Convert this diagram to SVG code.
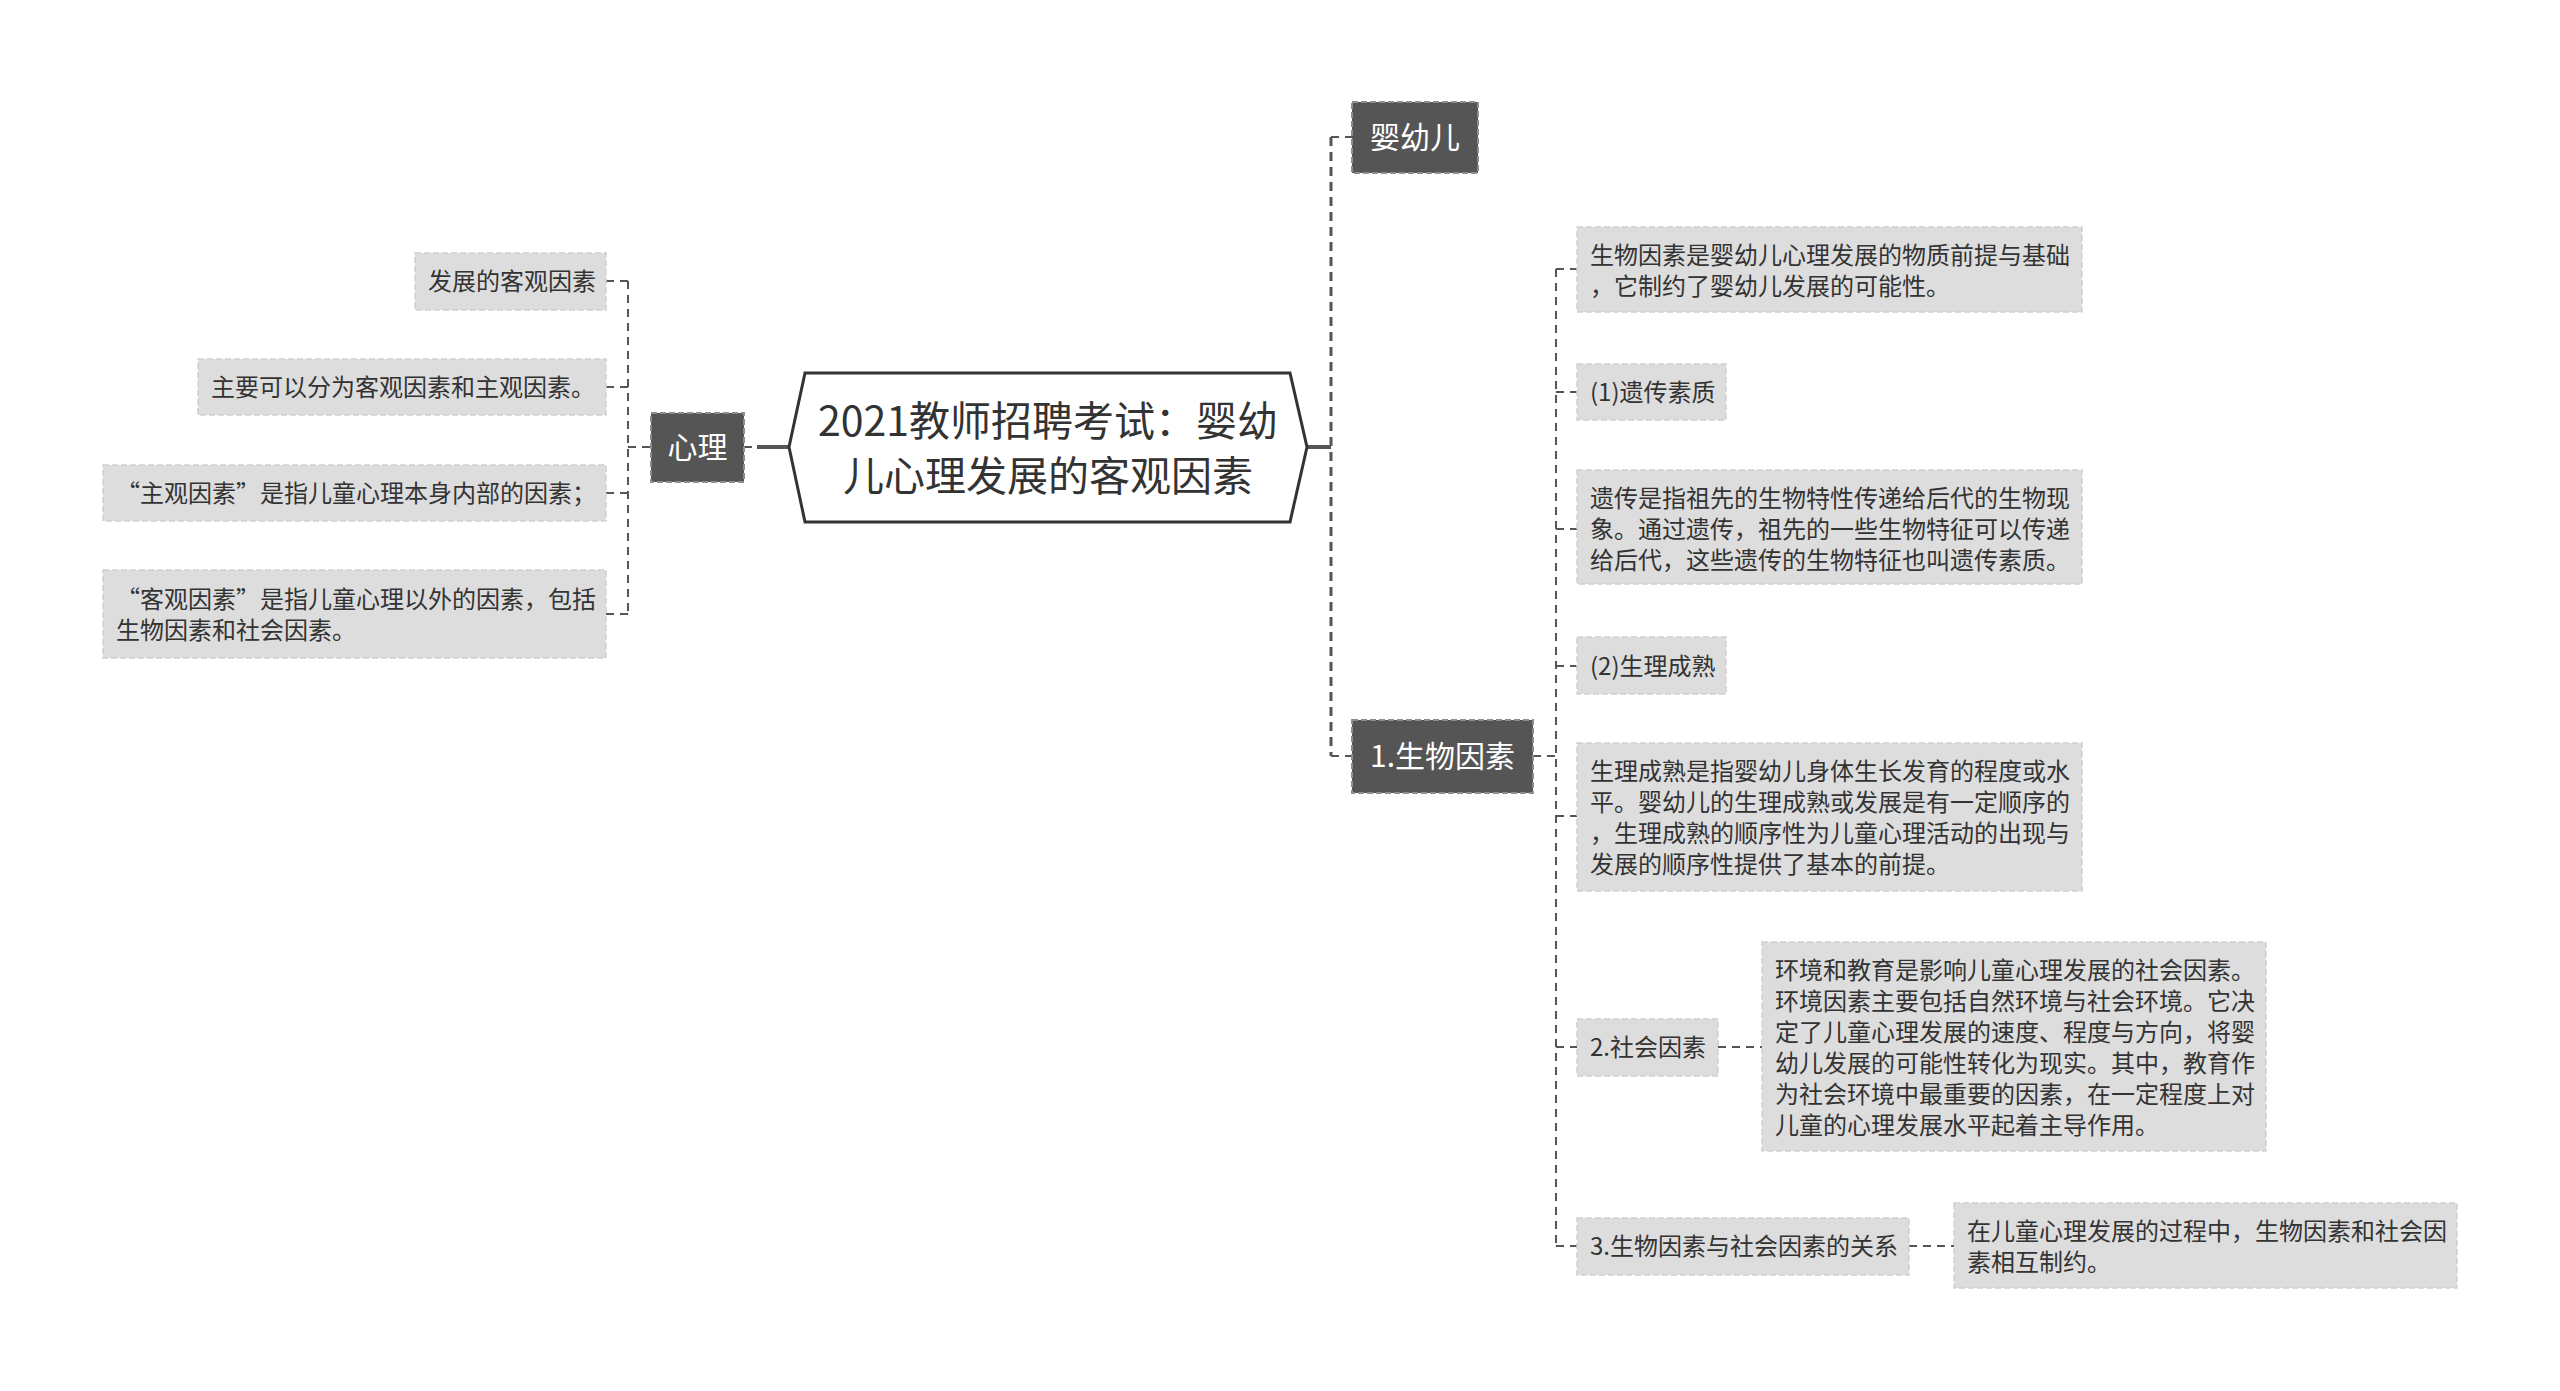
<svg xmlns="http://www.w3.org/2000/svg" width="2560" height="1391" viewBox="0 0 2560 1391">
<style>
text{font-family:"Noto Sans CJK SC","Noto Sans",sans-serif;dominant-baseline:central}
.leaf rect{fill:#dddddd;stroke:#cfcfcf;stroke-width:1.5;stroke-dasharray:6 3}
.leaf text{font-size:24px;fill:#333333}
.dark rect{fill:#555555;stroke:#8e8e8e;stroke-width:2;stroke-dasharray:6 3}
.dark text{font-size:30px;fill:#ffffff}
.c1{stroke:#555555;stroke-width:3;fill:none;stroke-dasharray:9 6}
.c2{stroke:#555555;stroke-width:2;fill:none;stroke-dasharray:8 6}
.solid{stroke:#555555;stroke-width:4;fill:none}
</style>
<rect width="2560" height="1391" fill="#ffffff"/>
<g id="connectors">
  <line class="solid" x1="757" y1="447" x2="789" y2="447"/>
  <line class="c2" x1="744" y1="447" x2="757" y2="447"/>
  <line class="c2" x1="628" y1="447" x2="651" y2="447"/>
  <line class="c2" x1="628" y1="281" x2="628" y2="614"/>
  <line class="c2" x1="606" y1="281" x2="628" y2="281"/>
  <line class="c2" x1="606" y1="387" x2="628" y2="387"/>
  <line class="c2" x1="606" y1="493" x2="628" y2="493"/>
  <line class="c2" x1="606" y1="614" x2="628" y2="614"/>
  <line class="solid" x1="1307" y1="447" x2="1331" y2="447"/>
  <line class="c1" x1="1331" y1="137" x2="1331" y2="756"/>
  <line class="c2" x1="1331" y1="137" x2="1352" y2="137"/>
  <line class="c2" x1="1331" y1="756" x2="1352" y2="756"/>
  <line class="c2" x1="1533" y1="756" x2="1556" y2="756"/>
  <line class="c2" x1="1556" y1="269" x2="1556" y2="1246"/>
  <line class="c2" x1="1556" y1="269" x2="1577" y2="269"/>
  <line class="c2" x1="1556" y1="392" x2="1577" y2="392"/>
  <line class="c2" x1="1556" y1="529" x2="1577" y2="529"/>
  <line class="c2" x1="1556" y1="666" x2="1577" y2="666"/>
  <line class="c2" x1="1556" y1="816" x2="1577" y2="816"/>
  <line class="c2" x1="1556" y1="1047" x2="1577" y2="1047"/>
  <line class="c2" x1="1556" y1="1246" x2="1577" y2="1246"/>
  <line class="c2" x1="1718" y1="1047" x2="1762" y2="1047"/>
  <line class="c2" x1="1909" y1="1246" x2="1954" y2="1246"/>
</g>
<g id="root">
  <polygon points="789,447 805,373 1290,373 1307,447 1290,522 805,522" fill="#ffffff" stroke="#333333" stroke-width="3"/>
  <text x="1048" y="418" font-size="41" fill="#333333" text-anchor="middle">2021教师招聘考试：婴幼</text>
  <text x="1048" y="473" font-size="41" fill="#333333" text-anchor="middle">儿心理发展的客观因素</text>
</g>
<g id="xinli" class="dark">
  <rect x="651" y="413" width="93" height="69"/>
  <text x="697.5" y="445" text-anchor="middle">心理</text>
</g>
<g id="l1" class="leaf">
  <rect x="415" y="253" width="191" height="57"/>
  <text x="428" y="279">发展的客观因素</text>
</g>
<g id="l2" class="leaf">
  <rect x="198" y="359" width="408" height="56"/>
  <text x="211" y="385">主要可以分为客观因素和主观因素。</text>
</g>
<g id="l3" class="leaf">
  <rect x="103" y="465" width="503" height="56"/>
  <text x="116" y="491">“主观因素”是指儿童心理本身内部的因素；</text>
</g>
<g id="l4" class="leaf">
  <rect x="103" y="570" width="503" height="88"/>
  <text x="116" y="597">“客观因素”是指儿童心理以外的因素，包括</text>
  <text x="116" y="628">生物因素和社会因素。</text>
</g>
<g id="yingyouer" class="dark">
  <rect x="1352" y="102" width="126" height="71"/>
  <text x="1415" y="135" text-anchor="middle">婴幼儿</text>
</g>
<g id="shengwu" class="dark">
  <rect x="1352" y="720" width="181" height="73"/>
  <text x="1442.5" y="754" text-anchor="middle">1.生物因素</text>
</g>
<g id="r1" class="leaf">
  <rect x="1577" y="227" width="505" height="85"/>
  <text x="1590" y="253">生物因素是婴幼儿心理发展的物质前提与基础</text>
  <text x="1590" y="284">，它制约了婴幼儿发展的可能性。</text>
</g>
<g id="r2" class="leaf">
  <rect x="1577" y="364" width="149" height="56"/>
  <text x="1590" y="390">(1)遗传素质</text>
</g>
<g id="r3" class="leaf">
  <rect x="1577" y="470" width="505" height="114"/>
  <text x="1590" y="496">遗传是指祖先的生物特性传递给后代的生物现</text>
  <text x="1590" y="527">象。通过遗传，祖先的一些生物特征可以传递</text>
  <text x="1590" y="558">给后代，这些遗传的生物特征也叫遗传素质。</text>
</g>
<g id="r4" class="leaf">
  <rect x="1577" y="637" width="149" height="57"/>
  <text x="1590" y="664">(2)生理成熟</text>
</g>
<g id="r5" class="leaf">
  <rect x="1577" y="743" width="505" height="148"/>
  <text x="1590" y="769">生理成熟是指婴幼儿身体生长发育的程度或水</text>
  <text x="1590" y="800">平。婴幼儿的生理成熟或发展是有一定顺序的</text>
  <text x="1590" y="831">，生理成熟的顺序性为儿童心理活动的出现与</text>
  <text x="1590" y="862">发展的顺序性提供了基本的前提。</text>
</g>
<g id="r6" class="leaf">
  <rect x="1577" y="1019" width="141" height="57"/>
  <text x="1590" y="1045">2.社会因素</text>
</g>
<g id="r7" class="leaf">
  <rect x="1762" y="942" width="504" height="209"/>
  <text x="1775" y="968">环境和教育是影响儿童心理发展的社会因素。</text>
  <text x="1775" y="999">环境因素主要包括自然环境与社会环境。它决</text>
  <text x="1775" y="1030">定了儿童心理发展的速度、程度与方向，将婴</text>
  <text x="1775" y="1061">幼儿发展的可能性转化为现实。其中，教育作</text>
  <text x="1775" y="1092">为社会环境中最重要的因素，在一定程度上对</text>
  <text x="1775" y="1123">儿童的心理发展水平起着主导作用。</text>
</g>
<g id="r8" class="leaf">
  <rect x="1577" y="1218" width="332" height="57"/>
  <text x="1590" y="1244">3.生物因素与社会因素的关系</text>
</g>
<g id="r9" class="leaf">
  <rect x="1954" y="1203" width="503" height="85"/>
  <text x="1967" y="1229">在儿童心理发展的过程中，生物因素和社会因</text>
  <text x="1967" y="1260">素相互制约。</text>
</g>
</svg>
